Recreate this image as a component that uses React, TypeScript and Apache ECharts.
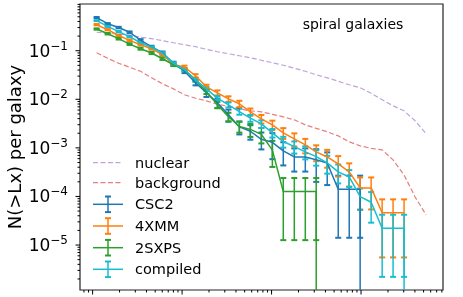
import React, { useEffect, useRef } from 'react';
import * as echarts from 'echarts';

// log10 of Lx at each bin
const logLx = [37.045, 37.168, 37.291, 37.413, 37.536, 37.659, 37.781, 37.904, 38.027, 38.150,
  38.272, 38.395, 38.518, 38.640, 38.763, 38.886, 39.009, 39.131, 39.254, 39.377,
  39.499, 39.622, 39.745, 39.868, 39.990, 40.113, 40.236, 40.358, 40.481, 40.604, 40.727];

const nuclear = [0.240, 0.230, 0.219, 0.209, 0.190, 0.177, 0.161, 0.146, 0.133, 0.121,
  0.107, 0.0953, 0.0867, 0.0788, 0.0717, 0.0637, 0.0566, 0.0503, 0.0436, 0.0378,
  0.0320, 0.0277, 0.0235, 0.0199, 0.0173, 0.0133, 0.00977, 0.00735, 0.00579, 0.00361, 0.00195];

const background = [0.0909, 0.070, 0.0552, 0.0457, 0.0378, 0.0278, 0.0209, 0.0164, 0.0124, 0.0105,
  0.00931, 0.00788, 0.00718, 0.00637, 0.00579, 0.00552, 0.00491, 0.00436, 0.00378, 0.00298,
  0.00252, 0.00214, 0.00177, 0.00133, 0.00110, 0.000977, 0.000910, 0.000566, 0.000277, 0.0000977, 0.0000416];

const csc2 = [0.48, 0.36, 0.30, 0.24, 0.165, 0.12, 0.091, 0.055, 0.038, 0.022,
  0.0136, 0.0085, 0.0048, 0.0027, 0.0022, 0.0015, 0.0013, 0.00087, 0.00065, 0.00065,
  0.00057, 0.00049, 0.000141, 0.000141, 0.000141, 0];
const csc2RelErr = [0.03, 0.03, 0.035, 0.04, 0.05, 0.055, 0.06, 0.08, 0.09, 0.12,
  0.18, 0.22, 0.28, 0.3, 0.33, 0.38, 0.55, 0.5, 0.5, 0.5,
  0.65, 0.65, 0.9, 0.9, 0.9, 0];

const xmm4 = [0.344, 0.271, 0.206, 0.163, 0.133, 0.110, 0.0827, 0.052, 0.0461, 0.0305,
  0.0181, 0.0136, 0.0102, 0.0081, 0.00552, 0.00396, 0.00298, 0.00204, 0.00153, 0.00115,
  0.00083, 0.00065, 0.000467, 0.00032, 0.00015, 0.00015, 0.0000463, 0.0000463, 0.0000463];
const xmm4RelErr = [0.03, 0.03, 0.035, 0.04, 0.04, 0.045, 0.05, 0.06, 0.07, 0.08,
  0.1, 0.12, 0.13, 0.15, 0.17, 0.2, 0.22, 0.25, 0.3, 0.33,
  0.36, 0.4, 0.45, 0.5, 0.64, 0.64, 0.88, 0.88, 0.88];

const sxps2 = [0.280, 0.224, 0.177, 0.137, 0.110, 0.0897, 0.0684, 0.0514, 0.0406, 0.025,
  0.0143, 0.0077, 0.0044, 0.00275, 0.0024, 0.0019, 0.0009, 0.000126, 0.000126, 0.000126,
  0.000126, 0];
const sxps2RelErr = [0.03, 0.035, 0.04, 0.04, 0.045, 0.05, 0.055, 0.06, 0.07, 0.08,
  0.1, 0.15, 0.2, 0.25, 0.3, 0.35, 0.55, 0.9, 0.9, 0.9,
  0.9, 0];

const compiled = [0.416, 0.317, 0.247, 0.195, 0.146, 0.118, 0.089, 0.055, 0.0406, 0.0252,
  0.0164, 0.0106, 0.0077, 0.0056, 0.0041, 0.00313, 0.00204, 0.00135, 0.00106, 0.000828,
  0.000662, 0.000491, 0.00032, 0.000252, 0.0000991, 0.0000759, 0.0000221, 0.0000221, 0.0000221, 0];
const compiledRelErr = [0.02, 0.025, 0.03, 0.03, 0.035, 0.04, 0.045, 0.05, 0.06, 0.07,
  0.09, 0.1, 0.12, 0.14, 0.16, 0.18, 0.2, 0.25, 0.28, 0.3,
  0.35, 0.4, 0.42, 0.38, 0.47, 0.62, 0.9, 0.9, 0.9, 0];

const yMajorExponents = [-1, -2, -3, -4, -5];
const xMajorExponents = [37, 38, 39, 40];

const FONT = 'DejaVu Sans';
const X_MIN = Math.pow(10, 36.859);
const X_MAX = Math.pow(10, 40.916);
const Y_MIN = Math.pow(10, -5.926);
const Y_MAX = Math.pow(10, -0.038);

const COL = {
  blue: '#1f77b4', orange: '#ff7f0e', green: '#2ca02c', cyan: '#17becf',
  purple: '#9467bd', red: '#d62728',
};

function lineData(vals: number[]) {
  const out: number[][] = [];
  for (let i = 0; i < vals.length; i++) {
    const v = vals[i];
    if (v > 0) out.push([Math.pow(10, logLx[i]), v]);
    else {
      // a zero count on a log axis: matplotlib clips it, the line falls straight down
      if (i > 0 && vals[i - 1] > 0) out.push([Math.pow(10, logLx[i - 1]), Y_MIN]);
      break;
    }
  }
  return out;
}

function errData(vals: number[], rel: number[]) {
  const out: number[][] = [];
  vals.forEach((v, i) => {
    if (v > 0) {
      const lo = Math.max(v * (1 - rel[i]), Y_MIN);
      out.push([Math.pow(10, logLx[i]), lo, v * (1 + rel[i])]);
    }
  });
  return out;
}

function errSeries(data: number[][], color: string) {
  return {
    type: 'custom',
    data,
    clip: true,
    silent: true,
    encode: { x: 0, y: [1, 2] },
    renderItem: (params: any, api: any) => {
      const x = api.value(0);
      const lo = api.coord([x, api.value(1)]);
      const hi = api.coord([x, api.value(2)]);
      const cw = 3;
      return {
        type: 'group',
        children: [
          { type: 'line', shape: { x1: lo[0], y1: lo[1], x2: hi[0], y2: hi[1] }, style: { stroke: color, lineWidth: 1.5 } },
          { type: 'line', shape: { x1: lo[0] - cw, y1: lo[1], x2: lo[0] + cw, y2: lo[1] }, style: { stroke: color, lineWidth: 2 } },
          { type: 'line', shape: { x1: hi[0] - cw, y1: hi[1], x2: hi[0] + cw, y2: hi[1] }, style: { stroke: color, lineWidth: 2 } },
        ],
      };
    },
  };
}

function lineSeries(data: number[][], color: string, dashed = false) {
  return {
    type: 'line',
    data,
    symbol: 'none',
    silent: true,
    clip: true,
    lineStyle: dashed
      ? { color, width: 1.2, type: [5, 2.5], opacity: 0.6 }
      : { color, width: 1.5 },
  };
}

function tickData() {
  const out: number[][] = [];
  xMajorExponents.forEach((e) => out.push([Math.pow(10, e), Y_MIN, 0]));
  for (let e = 36; e <= 40; e++) {
    for (let m = 2; m <= 9; m++) {
      const v = m * Math.pow(10, e);
      if (v > X_MIN && v < X_MAX) out.push([v, Y_MIN, 1]);
    }
  }
  yMajorExponents.forEach((e) => out.push([X_MIN, Math.pow(10, e), 2]));
  for (let e = -6; e <= -1; e++) {
    for (let m = 2; m <= 9; m++) {
      const v = m * Math.pow(10, e);
      if (v > Y_MIN && v < Y_MAX) out.push([X_MIN, v, 3]);
    }
  }
  return out;
}

function legendGraphics() {
  const items: any[] = [];
  const x0 = 93, x1 = 123, xm = 108, tx = 135;
  const rows = [
    { label: 'nuclear', color: COL.purple, y: 162.7, kind: 'dash' },
    { label: 'background', color: COL.red, y: 182.7, kind: 'dash' },
    { label: 'CSC2', color: COL.blue, y: 204.3, kind: 'err' },
    { label: '4XMM', color: COL.orange, y: 226, kind: 'err' },
    { label: '2SXPS', color: COL.green, y: 247.7, kind: 'err' },
    { label: 'compiled', color: COL.cyan, y: 269.3, kind: 'err' },
  ];
  rows.forEach((r) => {
    if (r.kind === 'dash') {
      items.push({ type: 'line', shape: { x1: x0, y1: r.y, x2: x1, y2: r.y },
        style: { stroke: r.color, lineWidth: 1.2, lineDash: [5, 2.5], opacity: 0.6 } });
    } else {
      items.push({ type: 'line', shape: { x1: x0, y1: r.y, x2: x1, y2: r.y }, style: { stroke: r.color, lineWidth: 1.5 } });
      items.push({ type: 'line', shape: { x1: xm, y1: r.y - 7.8, x2: xm, y2: r.y + 7.8 }, style: { stroke: r.color, lineWidth: 1.5 } });
      items.push({ type: 'line', shape: { x1: xm - 3, y1: r.y - 7.8, x2: xm + 3, y2: r.y - 7.8 }, style: { stroke: r.color, lineWidth: 2 } });
      items.push({ type: 'line', shape: { x1: xm - 3, y1: r.y + 7.8, x2: xm + 3, y2: r.y + 7.8 }, style: { stroke: r.color, lineWidth: 2 } });
    }
    items.push({ type: 'text', x: tx, y: r.y,
      style: { text: r.label, fontFamily: FONT, fontSize: 14.5, fill: '#000', textAlign: 'left', textVerticalAlign: 'middle' } });
  });
  return items;
}

export default function App() {
  const ref = useRef<HTMLDivElement>(null);
  useEffect(() => {
    if (!ref.current) return;
    const chart = echarts.init(ref.current, undefined, { renderer: 'svg' });
    const option: any = {
      animation: false,
      textStyle: { fontFamily: FONT },
      grid: { left: 80, right: 20, top: 4, bottom: 7, show: true, borderColor: '#222', borderWidth: 1.2, backgroundColor: 'transparent' },
      xAxis: {
        type: 'log', logBase: 10, min: X_MIN, max: X_MAX,
        axisLine: { show: false }, axisTick: { show: false }, axisLabel: { show: false }, splitLine: { show: false },
      },
      yAxis: {
        type: 'log', logBase: 10, min: Y_MIN, max: Y_MAX, splitNumber: 6,
        axisLine: { show: false }, axisTick: { show: false }, splitLine: { show: false },
        axisLabel: {
          show: true, interval: 0, margin: 12, color: '#000',
          formatter: (v: number) => {
            const l = Math.log10(v);
            const e = Math.round(l);
            if (Math.abs(l - e) > 1e-6) return '';
            return `{b|10}{s|\u2212${Math.abs(e)}}`;
          },
          rich: {
            b: { fontFamily: FONT, fontSize: 17, color: '#000', lineHeight: 22 },
            s: { fontFamily: FONT, fontSize: 12, color: '#000', lineHeight: 7, verticalAlign: 'top' },
          },
        },
      },
      series: [
        lineSeries(lineData(nuclear), COL.purple, true),
        lineSeries(lineData(background), COL.red, true),
        lineSeries(lineData(csc2), COL.blue),
        errSeries(errData(csc2, csc2RelErr), COL.blue),
        lineSeries(lineData(xmm4), COL.orange),
        errSeries(errData(xmm4, xmm4RelErr), COL.orange),
        lineSeries(lineData(sxps2), COL.green),
        errSeries(errData(sxps2, sxps2RelErr), COL.green),
        lineSeries(lineData(compiled), COL.cyan),
        errSeries(errData(compiled, compiledRelErr), COL.cyan),
        {
          type: 'custom', data: tickData(), clip: false, silent: true,
          encode: { x: 0, y: 1 },
          renderItem: (params: any, api: any) => {
            const kind = api.value(2);
            const p = api.coord([api.value(0), api.value(1)]);
            const len = kind === 0 || kind === 2 ? 4.5 : 2.5;
            const shape = kind < 2
              ? { x1: p[0], y1: p[1], x2: p[0], y2: p[1] + len }
              : { x1: p[0] - len, y1: p[1], x2: p[0], y2: p[1] };
            return { type: 'line', shape, style: { stroke: '#000', lineWidth: 1 } };
          },
        },
      ],
      graphic: [
        { type: 'text', x: 14, y: 147, rotation: Math.PI / 2,
          style: { text: 'N(>Lx) per galaxy', fontFamily: FONT, fontSize: 18, fill: '#000', textAlign: 'center', textVerticalAlign: 'middle' } },
        { type: 'text', x: 353, y: 24,
          style: { text: 'spiral galaxies', fontFamily: FONT, fontSize: 14, fill: '#000', textAlign: 'center', textVerticalAlign: 'middle' } },
        ...legendGraphics(),
      ],
    };
    chart.setOption(option);
    return () => chart.dispose();
  }, []);
  return <div ref={ref} style={{ position: 'fixed', left: 0, top: 0, width: 463, height: 297 }} />;
}
